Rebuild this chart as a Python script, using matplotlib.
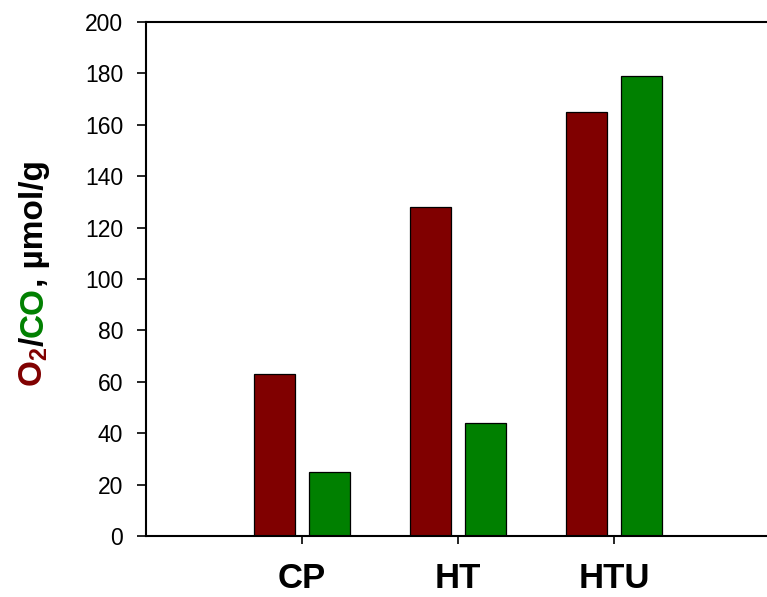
import numpy as np
import matplotlib
matplotlib.use("Agg")
import matplotlib.pyplot as plt

samples = ["CP", "HT", "HTU"]
o2_vals = [63, 128, 165]
co_vals = [25, 44, 179]
yticks = [0, 20, 40, 60, 80, 100, 120, 140, 160, 180, 200]

plt.rcParams['font.family'] = ['Liberation Sans', 'DejaVu Sans']
plt.rcParams['mathtext.fontset'] = 'custom'
plt.rcParams['mathtext.rm'] = 'Liberation Sans'
plt.rcParams['mathtext.bf'] = 'Liberation Sans:bold'

W, H = 767, 597
fig = plt.figure(figsize=(W / 100, H / 100), dpi=100)
ax = fig.add_axes([146 / W, 61 / H, 624 / W, 514 / H])

x = np.arange(1, len(samples) + 1)
bw = 0.26
off = 0.175
ax.bar(x - off, o2_vals, bw, color="#800000", edgecolor="black", linewidth=0.9)
ax.bar(x + off, co_vals, bw, color="#008000", edgecolor="black", linewidth=0.9)

ax.set_xlim(0, 4)
ax.set_ylim(0, 200)
ax.set_yticks(yticks)
ax.set_xticks(x)
ax.set_xticklabels(samples, fontsize=25, fontweight="bold")
ax.tick_params(axis="y", labelsize=16.5, length=6.5, width=1.2, pad=10, direction="out")
ax.tick_params(axis="x", length=6, width=1.2, pad=13, direction="out")
for s in ["left", "bottom", "top"]:
    ax.spines[s].set_linewidth(1.5)
ax.spines["right"].set_visible(False)

# multi-coloured y label, written bottom to top
pieces = [(r"$\mathbf{O_2}$", "#800000"), ("/", "black"), ("CO", "#008000"), (", \u00b5mol/g", "black")]
fig.canvas.draw()
r = fig.canvas.get_renderer()
widths = []
for s, c in pieces:
    t = fig.text(0, 0, s, fontsize=24, fontweight="bold")
    widths.append(t.get_window_extent(r).width)
    t.remove()
total = sum(widths)
ypix = 0.542 * H - total / 2
xb = 43 / W
for (s, c), w in zip(pieces, widths):
    fig.text(xb, ypix / H, s, fontsize=24, fontweight="bold", color=c, rotation=90,
             rotation_mode="anchor", ha="left", va="baseline")
    ypix += w

fig.savefig("out.png", dpi=100)
